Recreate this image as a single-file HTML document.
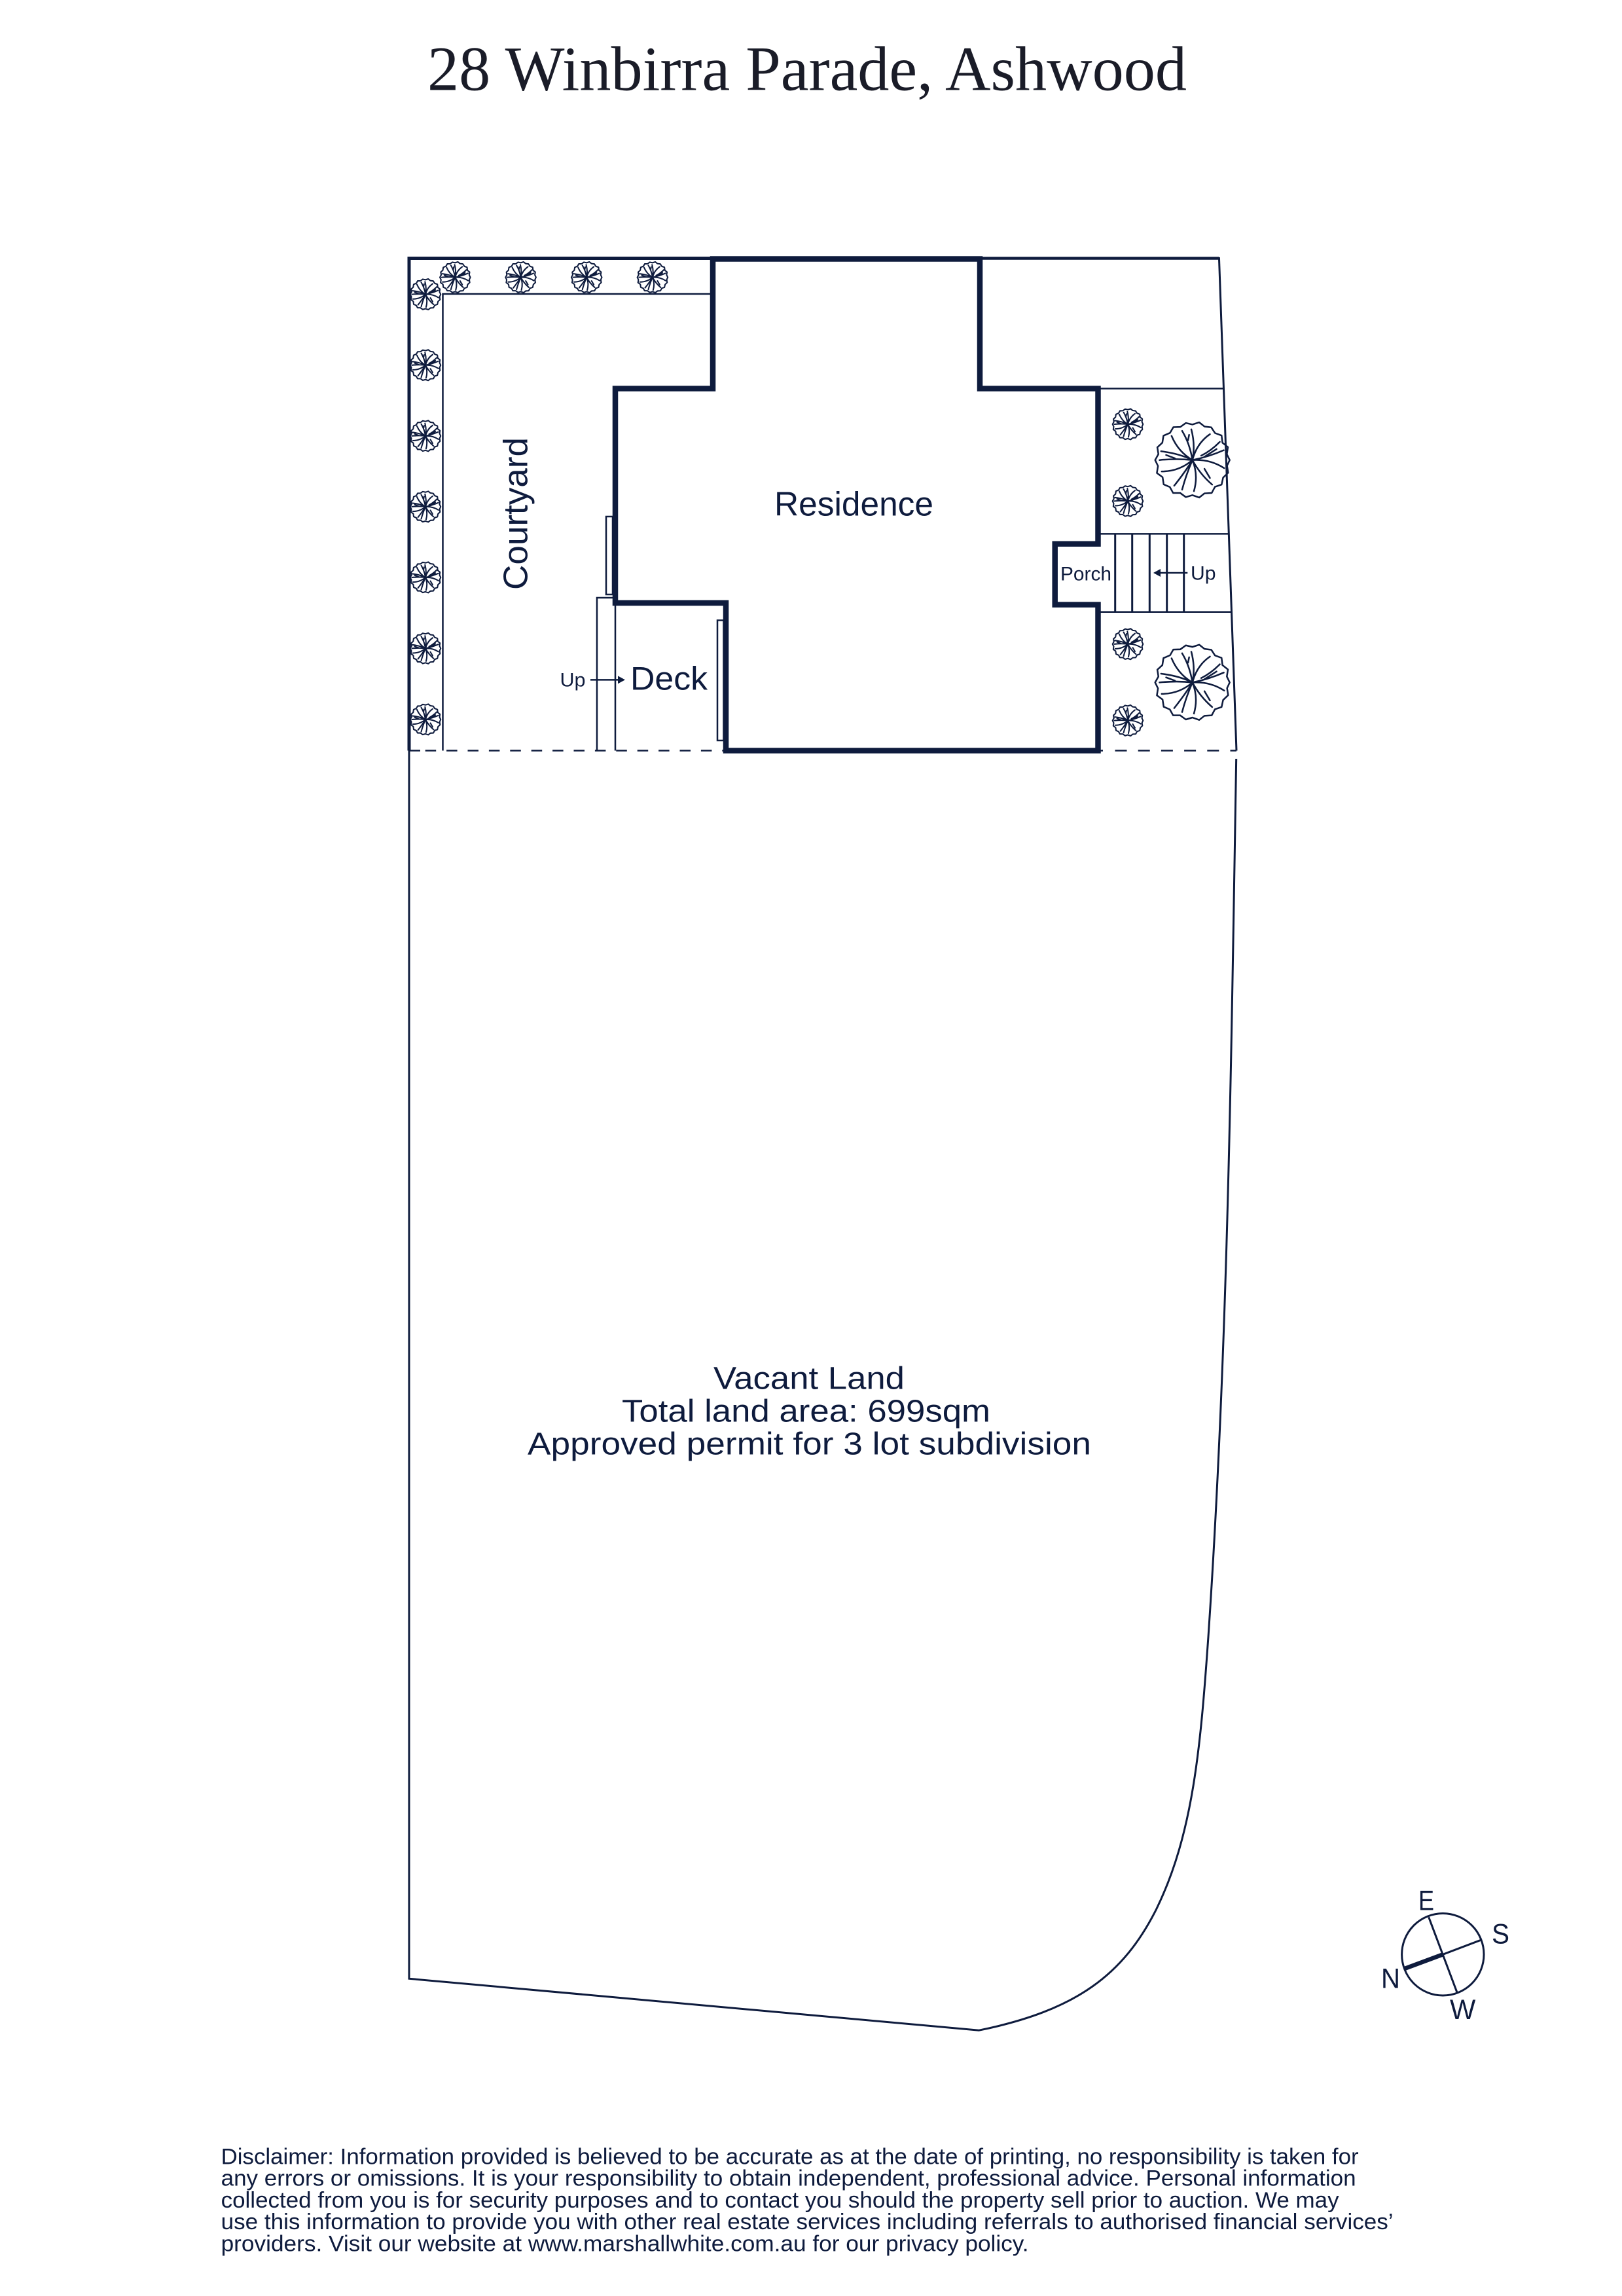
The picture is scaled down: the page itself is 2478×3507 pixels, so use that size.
<!DOCTYPE html>
<html>
<head>
<meta charset="utf-8">
<title>28 Winbirra Parade, Ashwood</title>
<style>
html,body{margin:0;padding:0;background:#fff;width:2478px;height:3507px;overflow:hidden}
svg{display:block}
text{font-family:"Liberation Sans",sans-serif;fill:#0e1b3d;stroke:none}
</style>
</head>
<body>
<svg xmlns="http://www.w3.org/2000/svg" width="2478" height="3507" viewBox="0 0 2478 3507">
<defs>
<g id="tree" fill="none" stroke-linejoin="round" stroke-linecap="round">
<path d="M170 0L158 26L163 58L140 80L133 112L103 122L88 150L55 152L31 171L0 160L-30 169L-56 150L-88 150L-103 123L-131 111L-136 78L-162 59L-157 27L-170 0L-155 -27L-160 -58L-137 -79L-132 -111L-102 -124L-87 -150L-55 -151L-30 -169L0 -162L31 -172L55 -153L86 -149L103 -123L133 -112L137 -79L162 -59L157 -27Z"/>
<path d="M0 0Q-60 -30 -143 -40M0 0Q-70 -8 -150 0M-80 -8L-120 -23M0 0Q-60 52 -140 52M0 0Q-30 50 -83 117M0 0Q-30 70 -47 135M0 0Q28 68 7 142M0 0Q35 65 90 112M55 40L80 82M0 0Q80 -5 145 37M0 0Q75 -15 143 -45M55 -15L110 -50M0 0Q20 -77 80 -118M40 -20Q85 -42 125 -83M0 0Q14 -68 -5 -140M0 0Q-12 -75 -47 -133M-20 -90L-15 -115M0 0Q-65 -38 -95 -110"/>
</g>
</defs>

<text x="653" y="137.7" font-size="96" textLength="1160" lengthAdjust="spacingAndGlyphs" style="font-family:'Liberation Serif',serif;fill:#1a1c28">28 Winbirra Parade, Ashwood</text>

<g fill="none" stroke="#0e1b3d">
  <!-- boundary -->
  <path d="M625 392V1146.5" stroke-width="5"/>
  <path d="M623 394.5H1089" stroke-width="5"/>
  <path d="M1497 394.5H1862.4" stroke-width="4.5"/>
  <path d="M1862.4 393L1889 1146.5" stroke-width="3"/>
  <path d="M1888.7 1159C1881 1606 1876.3 2053 1846 2500C1834 2670 1822.8 2801 1766.7 2916C1716.4 3016 1645 3070.7 1495.7 3101.2L625 3022.3V1146.5" stroke-width="3"/>

  <!-- thin lines -->
  <g stroke-width="2.5">
    <path d="M1089 449H676.5V1146.5"/>
    <path d="M912 1146.5V913H940"/>
    <path d="M940 921V1146.5"/>
    <path d="M1677 593.5H1868.3"/>
    <path d="M1677 815.4H1876.7"/>
    <path d="M1677 934.8H1880.7"/>
    <path d="M1703.7 815.4V934.8M1729.7 815.4V934.8M1756.3 815.4V934.8M1782.7 815.4V934.8M1808.7 815.4V934.8" stroke-width="3"/>
    <rect x="926" y="789" width="10" height="119"/>
    <rect x="1096" y="947.5" width="9.5" height="183.5"/>
    <path d="M625 1146.5H642"/>
    <path d="M649.7 1146.5H1105" stroke-dasharray="16.5 15.9"/>
    <path d="M1680 1146.5H1685"/>
    <path d="M1703.5 1146.5H1889" stroke-dasharray="18 17.2"/>
    <path d="M902 1038.4H946"/>
    <path d="M1814.3 875H1770"/>
  </g>

  <!-- residence walls -->
  <path d="M1089 395.5H1497V593.5H1677.5V830.7H1611.7V923.6H1677.5V1146.5H1109V921H940V593.5H1089Z" stroke-width="8.5" stroke-linejoin="miter"/>

  <!-- compass -->
  <circle cx="2204.3" cy="2985.3" r="62.7" stroke-width="3"/>
  <path d="M2182.7 2928.3L2226 3043.3" stroke-width="3"/>
  <path d="M2204.3 2985.3L2262.3 2963.3" stroke-width="3"/>
  <path d="M2204.3 2985.3L2146.7 3006.7" stroke-width="6.5"/>

  <!-- small trees -->
  <g stroke-width="15">
    <use href="#tree" transform="translate(695.3,423.6) scale(.137)"/>
    <use href="#tree" transform="translate(795.6,423.6) scale(.137)"/>
    <use href="#tree" transform="translate(896.2,423.6) scale(.137)"/>
    <use href="#tree" transform="translate(996.9,423.6) scale(.137)"/>
    <use href="#tree" transform="translate(650,449.6) scale(.137)"/>
    <use href="#tree" transform="translate(650,557.8) scale(.137)"/>
    <use href="#tree" transform="translate(650,665.9) scale(.137)"/>
    <use href="#tree" transform="translate(650,774) scale(.137)"/>
    <use href="#tree" transform="translate(650,882) scale(.137)"/>
    <use href="#tree" transform="translate(650,990.4) scale(.137)"/>
    <use href="#tree" transform="translate(650,1099) scale(.137)"/>
    <use href="#tree" transform="translate(1723,648) scale(.137)"/>
    <use href="#tree" transform="translate(1723,765.4) scale(.137)"/>
    <use href="#tree" transform="translate(1723,983.8) scale(.137)"/>
    <use href="#tree" transform="translate(1723,1100.6) scale(.137)"/>
  </g>
  <!-- big trees -->
  <g stroke-width="7.5">
    <use href="#tree" transform="translate(1821.7,702.7) scale(.335)"/>
    <use href="#tree" transform="translate(1821.7,1042.4) scale(.335)"/>
  </g>
</g>

<!-- arrowheads -->
<path d="M955 1038.4L944 1032.4V1044.4Z" fill="#0e1b3d"/>
<path d="M1762 875L1773 869V881Z" fill="#0e1b3d"/>

<!-- labels -->
<text x="1183" y="787.7" font-size="52" textLength="243" lengthAdjust="spacingAndGlyphs">Residence</text>
<text transform="translate(805.5,901) rotate(-90)" x="0" y="0" font-size="52" textLength="233" lengthAdjust="spacingAndGlyphs">Courtyard</text>
<text x="963" y="1053.7" font-size="50" textLength="118" lengthAdjust="spacingAndGlyphs">Deck</text>
<text x="855.5" y="1048.6" font-size="30" textLength="39" lengthAdjust="spacingAndGlyphs">Up</text>
<text x="1620" y="886.3" font-size="30" textLength="78" lengthAdjust="spacingAndGlyphs">Porch</text>
<text x="1819" y="885.3" font-size="30" textLength="38.5" lengthAdjust="spacingAndGlyphs">Up</text>

<text x="1090" y="2121.7" font-size="48" textLength="292" lengthAdjust="spacingAndGlyphs">Vacant Land</text>
<text x="950" y="2171.7" font-size="48" textLength="563" lengthAdjust="spacingAndGlyphs">Total land area: 699sqm</text>
<text x="806" y="2221.7" font-size="48" textLength="861" lengthAdjust="spacingAndGlyphs">Approved permit for 3 lot subdivision</text>

<text x="2167" y="2917.7" font-size="42.5" textLength="24" lengthAdjust="spacingAndGlyphs">E</text>
<text x="2279" y="2968.3" font-size="42.5" textLength="27" lengthAdjust="spacingAndGlyphs">S</text>
<text x="2110" y="3036.7" font-size="42.5" textLength="29" lengthAdjust="spacingAndGlyphs">N</text>
<text x="2215" y="3084" font-size="42.5" textLength="39.3" lengthAdjust="spacingAndGlyphs">W</text>

<text x="337.6" y="3305.7" font-size="34" textLength="1738" lengthAdjust="spacingAndGlyphs">Disclaimer: Information provided is believed to be accurate as at the date of printing, no responsibility is taken for</text>
<text x="337.6" y="3338.6" font-size="34" textLength="1734" lengthAdjust="spacingAndGlyphs">any errors or omissions. It is your responsibility to obtain independent, professional advice. Personal information</text>
<text x="337.6" y="3371.8" font-size="34" textLength="1708" lengthAdjust="spacingAndGlyphs">collected from you is for security purposes and to contact you should the property sell prior to auction. We may</text>
<text x="337.6" y="3405" font-size="34" textLength="1791" lengthAdjust="spacingAndGlyphs">use this information to provide you with other real estate services including referrals to authorised financial services’</text>
<text x="337.6" y="3438.3" font-size="34" textLength="1234" lengthAdjust="spacingAndGlyphs">providers. Visit our website at www.marshallwhite.com.au for our privacy policy.</text>
</svg>
</body>
</html>
